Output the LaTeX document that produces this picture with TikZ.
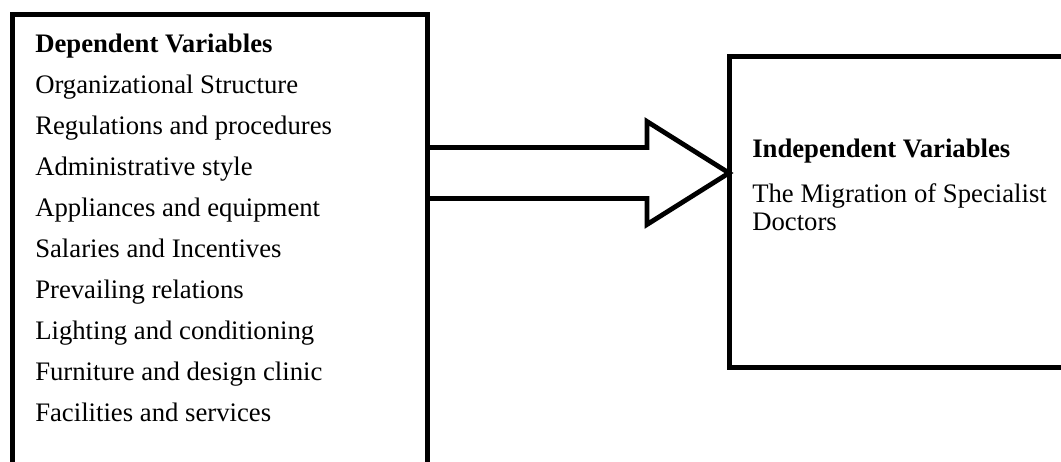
\documentclass[tikz,border=0pt]{standalone}
\usepackage{fontspec}
\setmainfont{Liberation Serif}
\usetikzlibrary{calc,positioning}

\tikzset{
  varbox/.style={draw,line width=0.125cm,outer sep=0pt,inner sep=0pt},
  item/.style={anchor=base west,inner sep=0pt,font=\fontsize{19}{22}\selectfont},
  head/.style={item,font=\fontsize{19}{22}\selectfont\bfseries},
  fatarrow/.style={line width=0.12cm,line join=miter}
}

\begin{document}
\begin{tikzpicture}
  \useasboundingbox (0,0) rectangle (26.525,11.55);
  % the two boxes
  \node[varbox,anchor=north west,minimum width=10.3625cm,minimum height=12cm]
    (lbox) at (0.3125,11.175) {};%
  \node[varbox,anchor=north west,minimum width=10cm,minimum height=7.775cm]
    (rbox) at (18.225,10.125) {};%
  %
  % left box texts
  \node[head] (dep) at ($(lbox.north west)+(0.5625,-0.95)$) {Dependent Variables};%
  \foreach \t [count=\i] in {Organizational Structure,Regulations and procedures,%
    Administrative style,Appliances and equipment,Salaries and Incentives,%
    Prevailing relations,Lighting and conditioning,Furniture and design clinic,%
    Facilities and services}%
  \node[item] (dv\i) at ($(dep.base west)+(0,-1.025*\i)$) {\t};%
  %
  % right box texts
  \node[head] (indep) at ($(rbox.north west)+(0.575,-2.525)$) {Independent Variables};%
  \node[item] (mig1) at ($(indep.base west)+(0,-1.125)$) {The Migration of Specialist};%
  \node[item] (mig2) at ($(mig1.base west)+(0,-0.7)$) {Doctors};%
  %
  % the arrow
  \coordinate (tip) at ($(rbox.north west)+(0,-2.9)$);%
  \draw[fatarrow] ($(lbox.east |- tip)+(0,0.6375)$) -- ($(tip)+(-2.05,0.6375)$)
    -- ($(tip)+(-2.05,1.2875)$) -- (tip) -- ($(tip)+(-2.05,-1.2875)$)
    -- ($(tip)+(-2.05,-0.6375)$) -- ($(lbox.east |- tip)+(0,-0.6375)$);%
\end{tikzpicture}
\end{document}
